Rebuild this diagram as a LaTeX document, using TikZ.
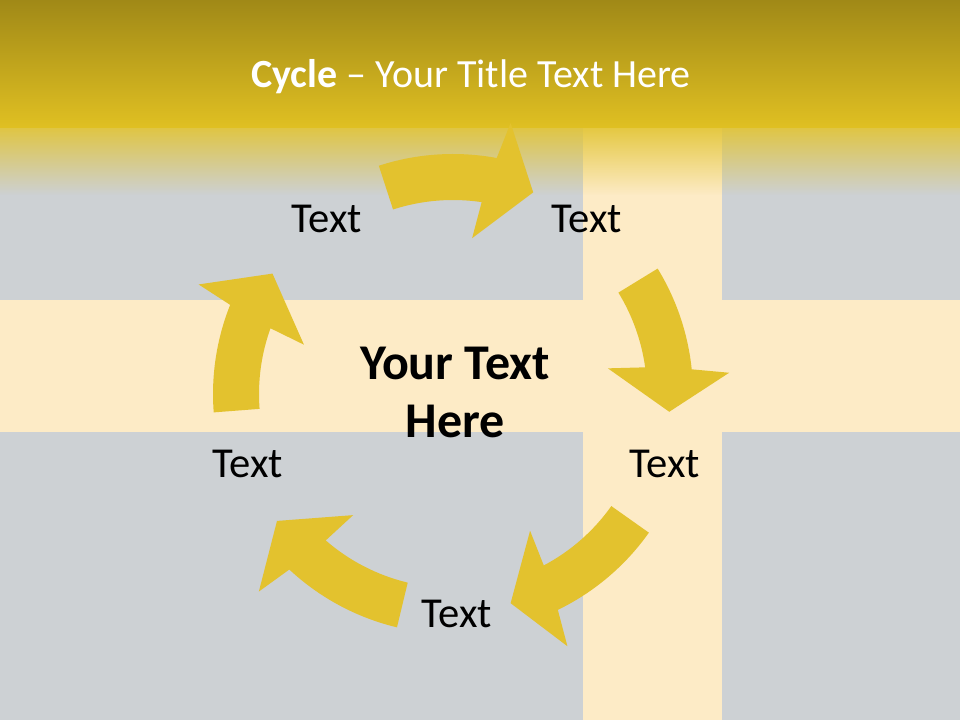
\documentclass[tikz,border=0pt]{standalone}
\usepackage{fontspec}
\setmainfont{Carlito}
\usetikzlibrary{fadings}

\definecolor{slategray}{RGB}{205,209,212}
\definecolor{creamband}{RGB}{253,235,198}
\definecolor{arrowgold}{RGB}{227,194,46}
\definecolor{headtop}{RGB}{160,137,23}
\definecolor{headbottom}{RGB}{224,192,34}
\definecolor{headfadecol}{RGB}{226,196,50}

\tikzfading[name=headfade, top color=transparent!10, bottom color=transparent!100]

\tikzset{
  looplabel/.style={anchor=base, font=\fontsize{32}{38}\selectfont},
  hublabel/.style={align=center, font=\fontsize{37.5}{43.5}\selectfont\bfseries},
  cyclearrow/.style={fill=arrowgold},
}

\begin{document}
\begin{tikzpicture}[x=0.75pt, y=0.75pt]
  \useasboundingbox (0,0) rectangle (960,720);
  % backdrop and cross
  \fill[slategray] (0,0) rectangle (960,720);
  \fill[creamband] (583,0) rectangle (722,592);
  \fill[creamband] (0,288) rectangle (960,420);
  % header
  \fill[headfadecol, path fading=headfade] (0,525) rectangle (960,593);
  \shade[top color=headtop, bottom color=headbottom] (0,592) rectangle (960,720);
  \node[anchor=base, text=white, font=\fontsize{30}{36}\selectfont] (title) at (471,632)
    {\textbf{Cycle} -- Your Title Text Here};

  % the five arrows
  \begin{scope}[shift={(453,326)}]
    \foreach \t/\b/\p in {108/80.5/68.3, 31.5/6.9/-4.7, -35.3/-63.1/-74.6,
                          -103.5/-132/-144.2, 184.4/159.2/146.3}
      \fill[cyclearrow] (\t:240) arc[start angle=\t, end angle=\b-1, radius=240]
        -- ({\b-2.5}:277) -- (\p:217) -- ({\b+2.5}:157) -- ({\b+1}:194)
        arc[start angle=\b+1, end angle=\t, radius=194] -- cycle;
  \end{scope}

  % labels
  \node[looplabel] (lbltopleft) at (327,487) {Text};
  \node[looplabel] (lbltopright) at (587,487) {Text};
  \node[looplabel] (lblright) at (665,242) {Text};
  \node[looplabel] (lblbottom) at (457,92) {Text};
  \node[looplabel] (lblleft) at (248,242) {Text};
  \node[hublabel] (hub) at (455,328) {Your Text\\Here};
\end{tikzpicture}
\end{document}
